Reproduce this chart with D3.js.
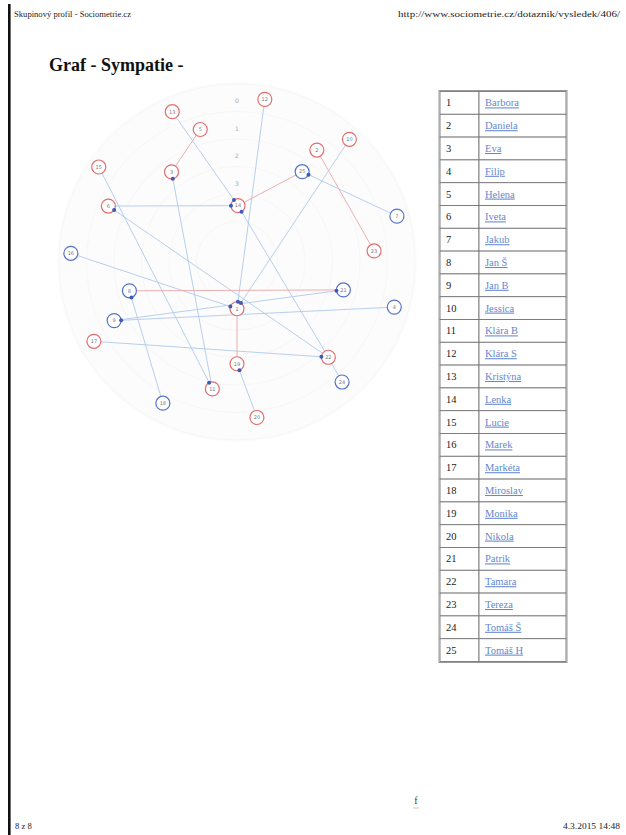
<!DOCTYPE html>
<html>
<head>
<meta charset="utf-8">
<script src="https://cdn.jsdelivr.net/npm/d3@7"></script>
<style>
  body { margin: 0; background: #fff; }
  svg { display: block; font-family: "Liberation Serif", "Times New Roman", serif; }
</style>
</head>
<body>
<svg id="page" width="626" height="835"></svg>
<script>
//Data

//Pupils (index+1 = pupil number)
var names = ["Barbora","Daniela","Eva","Filip","Helena","Iveta","Jakub","Jan Š","Jan B","Jessica",
  "Klára B","Klára S","Kristýna","Lenka","Lucie","Marek","Markéta","Miroslav","Monika","Nikola",
  "Patrik","Tamara","Tereza","Tomáš Š","Tomáš H"];
var gender = ["f","f","f","m","f","f","m","m","m","f","f","f","f","f","f","m","f","m","f","f","m","f","f","m","m"];

//Position in the target: ring level (0 = outer ring) and angle clockwise from top, degrees
var nodeLevel = [4.3,1.0,1.95,0.05,1.0,0.9,-0.05,1.95,1.05,-0.05,1.3,0,0.05,3.95,-0.1,-0.05,0.05,0.2,2.3,0.3,2.0,1.2,1.0,0.2,1.95];
var nodeAngle = [180,35.5,324,106,344.5,293.5,74,255,244.5,42.5,191,9.7,336.7,1,304.5,273,241,207.7,180,172.7,104.7,136.2,85.4,138.8,35.8];

//Ring labels
var ringLabels = ["0","1","2","3"];

//One-way choices [from, to] (dot at "to"), mutual choices, plain links
var choices = [[13,14],[6,14],[22,14],[11,3],[22,6],[15,11],[7,25],[9,21],[18,8],[12,1],[10,1],[16,1],[4,9],[17,22],[20,19]];
var mutual = [[5,3],[14,25],[8,21],[1,19],[2,23]];
var plain = [[22,24]];

//Layout
var svg = d3.select("#page");
var cx = 237, cy = 262;
var nodeR = 7;
var rScale = d3.scaleLinear().domain([0, 6]).range([165, 0]);
var toRad = Math.PI / 180;

function pos(id) {
  var r = rScale(nodeLevel[id - 1]);
  var a = nodeAngle[id - 1] * toRad;
  return [cx + r * Math.sin(a), cy - r * Math.cos(a)];
}

//Page frame
svg.append("rect").attr("x", 8).attr("y", 4).attr("width", 2.6).attr("height", 831).attr("fill", "#111");

svg.append("text").attr("x", 14).attr("y", 17).attr("font-size", 8.8).attr("fill", "#222")
  .attr("textLength", 117).attr("lengthAdjust", "spacingAndGlyphs")
  .text("Skupinový profil - Sociometrie.cz");
svg.append("text").attr("x", 398).attr("y", 17).attr("font-size", 8.8).attr("fill", "#222")
  .attr("textLength", 222).attr("lengthAdjust", "spacingAndGlyphs")
  .text("http://www.sociometrie.cz/dotaznik/vysledek/406/");

svg.append("text").attr("x", 49).attr("y", 71).attr("font-size", 18).attr("font-weight", "bold")
  .attr("fill", "#111").text("Graf - Sympatie -");

svg.append("text").attr("x", 15).attr("y", 829).attr("font-size", 8.6).attr("fill", "#222").text("8 z 8");
svg.append("text").attr("x", 563).attr("y", 829).attr("font-size", 8.8).attr("fill", "#222")
  .attr("textLength", 57).attr("lengthAdjust", "spacingAndGlyphs").text("4.3.2015 14:48");
svg.append("text").attr("x", 416).attr("y", 804).attr("font-size", 10).attr("fill", "#444")
  .attr("text-anchor", "middle").text("f");
svg.append("line").attr("x1", 413).attr("x2", 419).attr("y1", 808).attr("y2", 808)
  .attr("stroke", "#bbb").attr("stroke-width", 0.8);

//Target rings (barely visible in the print)
var g = svg.append("g");
g.append("circle").attr("cx", cx).attr("cy", cy).attr("r", 180).attr("fill", "#fcfcfc");
g.selectAll("circle.ring").data(d3.range(0, 6)).enter().append("circle")
  .attr("class", "ring").attr("cx", cx).attr("cy", cy)
  .attr("r", function(d){ return rScale(d) + 13; })
  .attr("fill", "none").attr("stroke", "#f7f7f7").attr("stroke-width", 1);
g.selectAll("text.ringlab").data(ringLabels).enter().append("text")
  .attr("class", "ringlab").attr("x", cx)
  .attr("y", function(d, i){ return cy - rScale(i) + 6; })
  .attr("text-anchor", "middle").attr("font-size", 6).attr("fill", "#aaa")
  .attr("font-family", "DejaVu Sans, sans-serif")
  .text(function(d){ return d; });

//Links
function drawLinks(list, color) {
  g.selectAll(null).data(list).enter().append("line")
    .attr("x1", function(d){ return pos(d[0])[0]; })
    .attr("y1", function(d){ return pos(d[0])[1]; })
    .attr("x2", function(d){ return pos(d[1])[0]; })
    .attr("y2", function(d){ return pos(d[1])[1]; })
    .attr("stroke", color).attr("stroke-width", 0.9);
}
drawLinks(choices, "#afc9ec");
drawLinks(plain, "#afc9ec");
drawLinks(mutual, "#eba6a6");

//Nodes
var nodes = g.selectAll("g.node").data(d3.range(1, 26)).enter().append("g")
  .attr("class", "node")
  .attr("transform", function(d){ return "translate(" + pos(d)[0] + "," + pos(d)[1] + ")"; });
nodes.append("circle").attr("r", nodeR).attr("fill", "#fff")
  .attr("stroke", function(d){ return gender[d - 1] == "m" ? "#5674c6" : "#e26e6e"; })
  .attr("stroke-width", 1.2);
nodes.append("text").attr("text-anchor", "middle").attr("dy", 1.8)
  .attr("font-size", 5).attr("fill", "#778").attr("font-family", "DejaVu Sans, sans-serif")
  .text(function(d){ return d; });

//Choice dots at the receiving end
g.selectAll("circle.dot").data(choices).enter().append("circle")
  .attr("class", "dot").attr("r", 2).attr("fill", "#4059b6")
  .attr("cx", function(d){
    var a = pos(d[0]), b = pos(d[1]);
    var len = Math.hypot(a[0] - b[0], a[1] - b[1]);
    return b[0] + (a[0] - b[0]) / len * nodeR;
  })
  .attr("cy", function(d){
    var a = pos(d[0]), b = pos(d[1]);
    var len = Math.hypot(a[0] - b[0], a[1] - b[1]);
    return b[1] + (a[1] - b[1]) / len * nodeR;
  });

//Legend table
var ids = d3.range(1, 26);
var tx0 = 440, txDiv = 479, tx1 = 566;
var yBand = d3.scaleBand().domain(ids).range([91.5, 661.5]);
var table = svg.append("g");
var rows = table.selectAll("g.row").data(ids).enter().append("g")
  .attr("class", "row")
  .attr("transform", function(d){ return "translate(0," + yBand(d) + ")"; });
rows.append("rect").attr("x", tx0).attr("width", txDiv - tx0).attr("height", yBand.bandwidth())
  .attr("fill", "#fff").attr("stroke", "#777").attr("stroke-width", 0.9);
rows.append("rect").attr("x", txDiv).attr("width", tx1 - txDiv).attr("height", yBand.bandwidth())
  .attr("fill", "#fff").attr("stroke", "#777").attr("stroke-width", 0.9);
rows.append("text").attr("x", 446).attr("y", yBand.bandwidth() / 2 + 3.5)
  .attr("font-size", 10.5).attr("fill", "#222").text(function(d){ return d; });
rows.append("text").attr("x", 485).attr("y", yBand.bandwidth() / 2 + 3.5)
  .attr("font-size", 10.5).attr("fill", "#6388cf").attr("text-decoration", "underline")
  .text(function(d){ return names[d - 1]; });
table.append("rect").attr("x", tx0 - 1).attr("y", 90.5).attr("width", tx1 - tx0 + 2).attr("height", 572)
  .attr("fill", "none").attr("stroke", "#999").attr("stroke-width", 1);
</script>
</body>
</html>
